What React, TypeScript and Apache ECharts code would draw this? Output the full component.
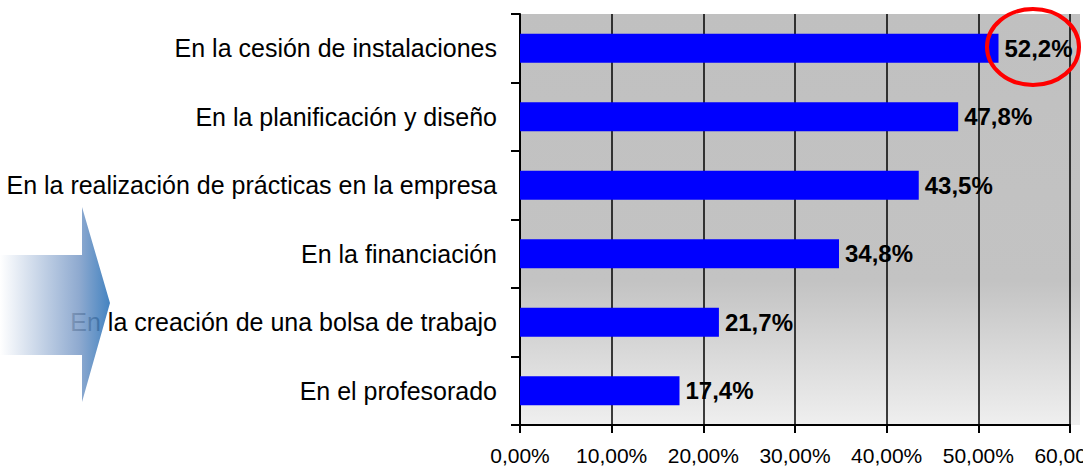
import React, { useEffect, useRef } from "react";
import * as echarts from "echarts";

const categories = [
  "En la cesión de instalaciones",
  "En la planificación y diseño",
  "En la realización de prácticas en la empresa",
  "En la financiación",
  "En la creación de una bolsa de trabajo",
  "En el profesorado",
];
const values = [52.2, 47.8, 43.5, 34.8, 21.7, 17.4];
const xTicks = [0, 10, 20, 30, 40, 50, 60];

const FONT = "'Liberation Sans', Arial, sans-serif";

export default function App() {
  const ref = useRef<HTMLDivElement>(null);
  useEffect(() => {
    if (!ref.current) return;
    const chart = echarts.init(ref.current, undefined, { renderer: "svg" });
    const bgGrad = new echarts.graphic.LinearGradient(0, 0, 0, 1, [
      { offset: 0, color: "#c0c0c0" },
      { offset: 0.65, color: "#c3c3c3" },
      { offset: 1, color: "#efefef" },
    ]);
    chart.setOption({
      animation: false,
      backgroundColor: "#ffffff",
      textStyle: { fontFamily: FONT },
      grid: {
        left: 520,
        right: 13,
        top: 14,
        bottom: 42,
        show: true,
        backgroundColor: bgGrad,
        borderWidth: 0,
        containLabel: false,
        outerBoundsMode: "none",
      },
      xAxis: {
        type: "value",
        min: xTicks[0],
        max: xTicks[xTicks.length - 1],
        interval: 10,
        axisLine: { show: true, lineStyle: { color: "#000", width: 2 } },
        axisTick: { show: true, length: 8, lineStyle: { color: "#000", width: 2 } },
        splitLine: { show: true, lineStyle: { color: "#000", width: 1.5 } },
        axisLabel: {
          color: "#000",
          fontSize: 21,
          fontFamily: FONT,
          margin: 20,
          hideOverlap: false,
          formatter: (v: number) => v.toFixed(2).replace(".", ",") + "%",
        },
      },
      yAxis: {
        type: "category",
        data: categories,
        inverse: true,
        axisLine: { show: true, lineStyle: { color: "#000", width: 2 } },
        axisTick: { show: true, length: 9, lineStyle: { color: "#000", width: 2 } },
        splitLine: { show: false },
        axisLabel: {
          color: "#000",
          fontSize: 25,
          fontFamily: FONT,
          margin: 23,
        },
      },
      series: [
        {
          type: "bar",
          data: values,
          barWidth: 29,
          itemStyle: { color: "#0000ff" },
          label: {
            show: true,
            position: "right",
            distance: 6,
            color: "#000",
            fontSize: 24,
            fontWeight: "bold",
            fontFamily: FONT,
            formatter: (p: any) => Number(p.value).toFixed(1).replace(".", ",") + "%",
          },
        },
      ],
      graphic: [
        {
          type: "rect",
          z: -1,
          shape: { x: 1070, y: 14, width: 10, height: 411 },
          style: { fill: bgGrad },
          silent: true,
        },
        {
          type: "polygon",
          z: 100,
          shape: {
            points: [
              [0, 255],
              [82, 255],
              [82, 207],
              [110, 303],
              [82, 402],
              [82, 355],
              [0, 355],
            ],
          },
          style: {
            fill: new echarts.graphic.LinearGradient(0, 0, 1, 0, [
              { offset: 0, color: "#ffffff" },
              { offset: 0.72, color: "#7f9ec9" },
              { offset: 1, color: "#2a72b8" },
            ]),
            opacity: 0.88,
          },
          silent: true,
        },
        {
          type: "ellipse",
          z: 100,
          shape: { cx: 1033, cy: 47, rx: 46, ry: 38 },
          style: { fill: "none", stroke: "#ff0000", lineWidth: 4 },
          silent: true,
        },
      ],
    });
    return () => chart.dispose();
  }, []);
  return (
    <div
      ref={ref}
      style={{ position: "fixed", left: 0, top: 0, width: 1083, height: 467 }}
    />
  );
}
